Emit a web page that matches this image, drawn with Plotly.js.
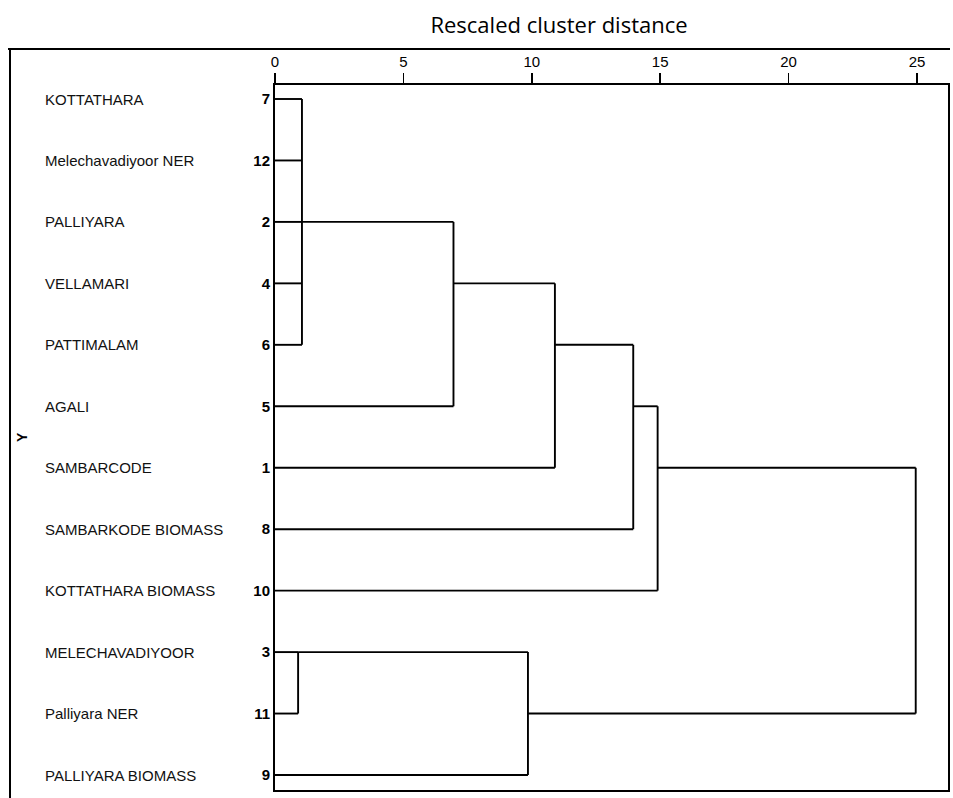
<!DOCTYPE html>
<html>
<head>
<meta charset="utf-8">
<script src="https://cdn.plot.ly/plotly-3.0.1.min.js"></script>
<style>html,body{margin:0;padding:0;background:#fff;}#chart{width:953px;height:798px;}</style>
</head>
<body>
<div id="chart"></div>
<script>
// ---- data ----
const leafNames = ["KOTTATHARA", "Melechavadiyoor NER", "PALLIYARA", "VELLAMARI", "PATTIMALAM", "AGALI",
  "SAMBARCODE", "SAMBARKODE BIOMASS", "KOTTATHARA BIOMASS", "MELECHAVADIYOOR", "Palliyara NER", "PALLIYARA BIOMASS"];
const leafIds = ["7", "12", "2", "4", "6", "5", "1", "8", "10", "3", "11", "9"];
// children of each merge: leaf case numbers, or "c<k>" for the k-th merge
const mergeChildren = [
  ["7", "12", "2", "4", "6"],
  ["c0", "5"],
  ["c1", "1"],
  ["c2", "8"],
  ["c3", "10"],
  ["3", "11"],
  ["c5", "9"],
  ["c4", "c6"]
];
const mergeHeights = [1.05, 6.95, 10.9, 13.95, 14.9, 0.9, 9.85, 24.95];
const xTickVals = [0, 5, 10, 15, 20, 25];
const chartTitle = "Rescaled cluster distance";
const yTitle = "Y";

// ---- build dendrogram segments ----
const rows = leafIds.map((_, i) => i);
const clusterRow = [];
const xs = [], ys = [];
function childInfo(ref) {
  if (ref.startsWith("c")) {
    const k = parseInt(ref.slice(1), 10);
    return { row: clusterRow[k], x0: mergeHeights[k] };
  }
  return { row: leafIds.indexOf(ref), x0: 0 };
}
mergeChildren.forEach((children, k) => {
  const h = mergeHeights[k];
  const infos = children.map(childInfo);
  infos.forEach(c => { xs.push(c.x0, h, null); ys.push(c.row, c.row, null); });
  const rmin = Math.min(...infos.map(c => c.row));
  const rmax = Math.max(...infos.map(c => c.row));
  xs.push(h, h, null); ys.push(rmin, rmax, null);
  clusterRow[k] = Math.floor((rmin + rmax) / 2);
});

const W = 953, H = 798;
const M = { l: 275, r: 5, t: 85, b: 8 };
const pw = W - M.l - M.r, ph = H - M.t - M.b;
const px2x = px => (px - M.l) / pw;
const py2y = py => 1 - (py - M.t) / ph;

const trace = {
  type: "scatter", mode: "lines", x: xs, y: ys,
  line: { color: "#000", width: 1.9 },
  hoverinfo: "skip", showlegend: false, cliponaxis: false
};

const annotations = leafNames.map((n, i) => ({
  text: n, xref: "paper", x: px2x(43), yref: "y", y: rows[i],
  xanchor: "left", yanchor: "middle", showarrow: false,
  font: { family: "Liberation Sans, Arial, sans-serif", size: 15, color: "#111" }
}));
annotations.push({
  text: yTitle, xref: "paper", x: px2x(22), yref: "paper", y: py2y(437),
  xanchor: "center", yanchor: "middle", showarrow: false, textangle: -90,
  font: { family: "Liberation Sans, Arial, sans-serif", size: 14, color: "#000", weight: "bold" }
});

const shapes = [
  { type: "line", xref: "paper", yref: "paper", x0: px2x(8), x1: px2x(950), y0: py2y(49), y1: py2y(49), line: { color: "#000", width: 2 } },
  { type: "line", xref: "paper", yref: "paper", x0: px2x(10), x1: px2x(10), y0: py2y(49), y1: py2y(798), line: { color: "#000", width: 2 } }
];

const layout = {
  width: W, height: H,
  margin: { l: M.l, r: M.r, t: M.t, b: M.b, pad: 0 },
  paper_bgcolor: "#fff", plot_bgcolor: "#fff",
  title: {
    text: chartTitle, xref: "paper", x: px2x(559), xanchor: "center",
    yref: "container", y: 1 - 25 / H, yanchor: "middle",
    font: { family: "Open Sans, sans-serif", size: 22, color: "#000" }
  },
  xaxis: {
    side: "top", range: [0, pw / 25.68], tickmode: "array", tickvals: xTickVals,
    ticks: "outside", ticklen: 10, tickwidth: 1.8, tickcolor: "#000",
    showline: true, linewidth: 2, linecolor: "#000", mirror: true,
    showgrid: false, zeroline: false, fixedrange: true,
    tickfont: { family: "Liberation Sans, Arial, sans-serif", size: 15, color: "#000" }
  },
  yaxis: {
    range: [11 + 15 / 61.45, -14 / 61.45], tickmode: "array", tickvals: rows, ticktext: leafIds,
    ticks: "", showline: true, linewidth: 2, linecolor: "#000", mirror: true,
    showgrid: false, zeroline: false, fixedrange: true,
    tickfont: { family: "Liberation Sans, Arial, sans-serif", size: 15, color: "#000", weight: "bold" }
  },
  annotations: annotations,
  shapes: shapes,
  showlegend: false
};

Plotly.newPlot("chart", [trace], layout, { displayModeBar: false, staticPlot: true });
</script>
</body>
</html>
